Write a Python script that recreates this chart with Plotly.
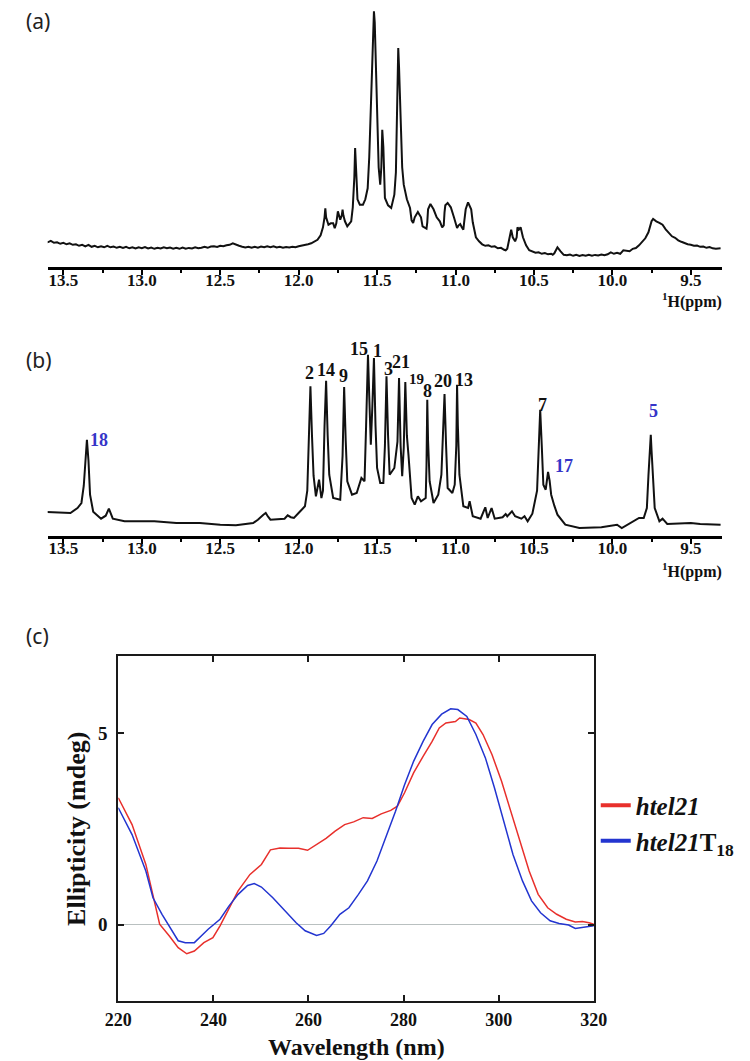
import plotly.graph_objects as go

W, H = 750, 1061

# ---------------- Panel (a): 1H NMR spectrum (intensity in arbitrary units) ----------------
a_ppm = [13.62, 13.60, 13.58, 13.56, 13.54, 13.52, 13.50, 13.48, 13.46, 13.44, 13.42, 13.40, 13.38, 13.36,
         13.34, 13.32, 13.30, 13.28, 13.26, 13.24, 13.22, 13.20, 13.18, 13.16, 13.14, 13.12, 13.10, 13.08,
         13.06, 13.04, 13.02, 13.00, 12.98, 12.96, 12.94, 12.92, 12.90, 12.88, 12.86, 12.84, 12.82, 12.80,
         12.78, 12.76, 12.74, 12.72, 12.70, 12.68, 12.66, 12.64, 12.62, 12.60, 12.58, 12.56, 12.54, 12.52,
         12.50, 12.48, 12.46, 12.44, 12.42, 12.40, 12.38, 12.36, 12.34, 12.32, 12.30, 12.28, 12.26, 12.24,
         12.22, 12.20, 12.18, 12.16, 12.14, 12.12, 12.10, 12.08, 12.06, 12.04, 12.02, 12.00, 11.98, 11.96,
         11.94, 11.92, 11.90, 11.88, 11.86, 11.845, 11.835, 11.83, 11.825, 11.815, 11.81, 11.795, 11.78,
         11.77, 11.76, 11.75, 11.74, 11.735, 11.725, 11.72, 11.715, 11.705, 11.69, 11.665, 11.655, 11.645,
         11.64, 11.635, 11.625, 11.61, 11.59, 11.575, 11.56, 11.55, 11.54, 11.53, 11.525, 11.52, 11.515,
         11.51, 11.505, 11.495, 11.49, 11.48, 11.473, 11.467, 11.46, 11.45, 11.43, 11.41, 11.40, 11.39,
         11.38, 11.375, 11.37, 11.365, 11.36, 11.35, 11.34, 11.33, 11.31, 11.29, 11.28, 11.27, 11.26,
         11.24, 11.22, 11.21, 11.195, 11.185, 11.18, 11.175, 11.16, 11.14, 11.12, 11.10, 11.085, 11.075,
         11.07, 11.065, 11.05, 11.03, 11.01, 11.00, 10.99, 10.98, 10.97, 10.96, 10.95, 10.945, 10.935,
         10.92, 10.90, 10.89, 10.87, 10.85, 10.83, 10.81, 10.79, 10.77, 10.75, 10.73, 10.71, 10.69, 10.68,
         10.67, 10.665, 10.655, 10.645, 10.635, 10.62, 10.61, 10.605, 10.595, 10.585, 10.57, 10.55, 10.53,
         10.51, 10.49, 10.47, 10.45, 10.43, 10.41, 10.39, 10.38, 10.37, 10.36, 10.35, 10.33, 10.31, 10.29,
         10.27, 10.25, 10.23, 10.21, 10.19, 10.17, 10.15, 10.13, 10.11, 10.09, 10.07, 10.05, 10.03, 10.01,
         9.99, 9.97, 9.95, 9.93, 9.91, 9.89, 9.87, 9.85, 9.83, 9.81, 9.79, 9.77, 9.76, 9.75, 9.74, 9.73,
         9.72, 9.70, 9.68, 9.66, 9.64, 9.62, 9.60, 9.58, 9.56, 9.54, 9.52, 9.50, 9.48, 9.46, 9.44, 9.42,
         9.40, 9.38, 9.36, 9.34, 9.31]
a_int = [26, 25, 26.5, 24.5, 25, 23.5, 24.5, 23, 24, 22.5, 23, 21.5, 22.5, 21, 22.5, 20.5, 21.5, 20, 21,
         20, 21.5, 20, 20.8, 19.5, 20.5, 19.3, 20.5, 19, 20, 18.8, 20, 19.2, 20.2, 18.8, 19.8, 18.5, 19.6,
         18.8, 20, 19, 19.8, 18.7, 19.5, 18.5, 19.8, 18.6, 19.4, 18.8, 20, 19, 19.6, 20.5, 19.5, 20.8, 21,
         20.3, 21.5, 21, 22, 22.5, 24, 22.5, 21.5, 20.5, 19.8, 20.6, 19.5, 20.5, 19.7, 20.8, 20, 21, 20.2,
         21, 19.8, 20.5, 19.5, 20.2, 19.8, 20.5, 20, 21, 21.5, 22, 23, 24, 25.5, 27.5, 32, 40, 50, 59, 50,
         43, 42.6, 44, 44, 39, 44, 56, 50, 47.6, 52, 57.6, 52, 46, 41, 46, 60, 90, 119.3, 95, 68, 62.6,
         62.6, 68, 79, 110, 159, 215, 245, 256, 245, 215, 192.6, 150, 100, 82.6, 100, 137.6, 120, 69.3,
         62, 59.3, 65, 72.6, 95, 150, 200, 219.3, 200, 140, 100, 82.6, 68, 59.3, 47, 44.3, 50, 55.3, 50,
         41, 40, 38.6, 45, 58, 63.3, 58, 50, 46, 40, 42, 55, 62, 64.3, 60, 50, 44, 39.3, 42, 43.3, 40, 37.6,
         45, 58, 65, 58, 45, 30, 26, 23, 21.5, 22, 20.5, 21, 19, 19.5, 17.5, 17, 18.5, 22, 28, 37.6, 30, 26,
         30, 40, 38, 40, 30, 22, 17, 15.5, 14.5, 15, 13.5, 14.3, 13, 13.6, 12.6, 14, 17, 20, 16, 12.5, 12,
         12.8, 11.5, 12.4, 11.3, 12.3, 11.5, 12.5, 11.6, 12.4, 11.8, 12.8, 12, 13, 15, 13.5, 14.5, 13.5,
         17, 16.5, 16, 18.5, 19.3, 22, 25, 29, 35, 41, 46, 48.3, 47, 46, 44.5, 42.6, 38, 34, 31, 29.5, 27,
         25.5, 24, 23, 22.6, 21.5, 21.8, 20.5, 20.8, 19.5, 20.3, 19, 18.6, 19, 17.5, 17]

# ---------------- Panel (b): 1H NMR spectrum ----------------
b_ppm = [13.61, 13.49, 13.455, 13.41, 13.385, 13.37, 13.36, 13.35, 13.34, 13.33, 13.31, 13.26, 13.23,
         13.21, 13.185, 13.11, 13.0, 12.92, 12.78, 12.63, 12.50, 12.40, 12.29, 12.26, 12.225, 12.21, 12.195,
         12.18, 12.09, 12.07, 12.05, 12.03, 11.99, 11.96, 11.945, 11.935, 11.925, 11.915, 11.905, 11.89,
         11.87, 11.855, 11.845, 11.835, 11.825, 11.815, 11.805, 11.78, 11.735, 11.72, 11.71, 11.70, 11.69,
         11.66, 11.63, 11.60, 11.58, 11.57, 11.558, 11.55, 11.54, 11.53, 11.52, 11.51, 11.50, 11.48, 11.46,
         11.45, 11.44, 11.43, 11.42, 11.39, 11.37, 11.36, 11.35, 11.34, 11.33, 11.32, 11.31, 11.30, 11.28,
         11.26, 11.24, 11.22, 11.19, 11.185, 11.18, 11.175, 11.165, 11.14, 11.11, 11.09, 11.08, 11.07,
         11.06, 11.05, 11.02, 11.005, 10.995, 10.99, 10.985, 10.975, 10.95, 10.92, 10.91, 10.89, 10.84,
         10.81, 10.795, 10.77, 10.75, 10.70, 10.68, 10.67, 10.64, 10.62, 10.58, 10.56, 10.54, 10.51, 10.48,
         10.47, 10.46, 10.45, 10.44, 10.425, 10.415, 10.41, 10.40, 10.39, 10.37, 10.35, 10.30, 10.21, 10.07,
         9.97, 9.94, 9.87, 9.83, 9.80, 9.78, 9.77, 9.76, 9.755, 9.75, 9.74, 9.73, 9.70, 9.68, 9.65, 9.50,
         9.44, 9.31]
b_int = [23.7, 22.7, 22.7, 27.7, 32.7, 50, 80, 96, 75, 41, 24, 17, 20, 27, 17, 14.4, 14.4, 14.4, 12.7,
         12.7, 11, 10.4, 12.7, 16, 21, 22.7, 19, 16, 17, 20.4, 18.5, 17.7, 24.4, 29.4, 45, 95, 149.4, 100,
         60, 39.4, 56, 37.7, 45, 110, 155, 100, 61, 37.7, 36, 80, 148.7, 95, 54.4, 41, 42.7, 57.7, 54.4, 110,
         181, 140, 91, 130, 177.7, 110, 67.7, 52.7, 52.7, 90, 159.4, 100, 61, 67.7, 94, 157.7, 90, 59.4, 87.7,
         153.7, 100, 81, 37.7, 31, 39.4, 34.4, 37.7, 70, 136, 95, 54.4, 32.7, 41, 61, 100, 141.7, 90, 47.7,
         42.7, 51, 90, 151, 110, 61, 29.4, 27.7, 34.4, 19.4, 17, 28.4, 17.7, 27.7, 17, 18.4, 21.7, 19.4, 24.4,
         19.4, 17, 19.4, 14.4, 22, 45, 80, 126, 90, 51, 46, 55, 63.7, 55, 41, 30, 21, 11, 7.7, 8.4, 11, 7.7,
         14.4, 17.7, 17.7, 27.7, 60, 90, 101, 85, 50, 27.7, 14.4, 17, 11.7, 12.7, 11.7, 11]

b_labels = ["18", "2", "14", "9", "15", "1", "3", "21", "19", "8", "20", "13", "7", "17", "5"]
b_label_ppm = [13.27, 11.934, 11.826, 11.715, 11.615, 11.50, 11.43, 11.345, 11.25, 11.18, 11.08,
               10.943, 10.448, 10.31, 9.74]
b_label_int = [96, 162.7, 166, 160, 187, 185, 167, 173.4, 157, 144.4, 154.4, 156, 131, 69.4, 124.4]
b_label_blue = ["18", "17", "5"]

ppm_ticks = [13.5, 13.0, 12.5, 12.0, 11.5, 11.0, 10.5, 10.0, 9.5]

# ---------------- Panel (c): CD spectra ----------------
wl_red = [220, 222.9, 225.8, 227.3, 228.7, 230.7, 232.6, 234.4, 236.0, 238.0, 239.9, 241.4, 243.3, 245.2,
          247.7, 250.1, 252.0, 254.0, 255.9, 257.9, 259.8, 261.7, 263.7, 265.6, 267.6, 269.5, 271.5, 273.4,
          275.3, 277.3, 278.7, 280.2, 282.1, 284.1, 286.0, 287.5, 288.9, 290.9, 291.8, 293.8, 295.2, 296.7,
          298.6, 300.6, 302.5, 304.5, 306.4, 308.3, 310.3, 312.2, 314.2, 316.1, 317.6, 319.0, 320]
cd_red = [3.31, 2.61, 1.57, 0.79, 0.01, -0.29, -0.6, -0.76, -0.69, -0.47, -0.34, -0.03, 0.44, 0.88, 1.31,
          1.57, 1.95, 2.0, 1.99, 1.99, 1.94, 2.09, 2.25, 2.44, 2.61, 2.68, 2.79, 2.77, 2.89, 2.98, 3.09, 3.44,
          3.96, 4.39, 4.78, 5.13, 5.26, 5.30, 5.39, 5.35, 5.26, 4.96, 4.43, 3.74, 2.96, 2.18, 1.40, 0.79, 0.44,
          0.27, 0.14, 0.07, 0.08, 0.05, 0.01]

wl_blue = [220, 222.9, 225.8, 227.3, 229.2, 230.7, 232.6, 234.1, 236.0, 237.5, 238.9, 241.4, 243.3, 245.2,
           247.2, 248.6, 250.1, 252.5, 255.0, 257.4, 259.3, 261.7, 263.2, 264.7, 266.6, 268.5, 270.5, 272.4,
           274.4, 276.3, 278.3, 280.2, 282.1, 284.1, 286.0, 288.0, 289.9, 291.4, 293.3, 295.2, 297.2, 299.1,
           301.1, 303.0, 305.0, 306.9, 308.8, 310.8, 312.7, 314.7, 316.1, 318.1, 320]
cd_blue = [3.05, 2.35, 1.40, 0.70, 0.27, -0.03, -0.42, -0.47, -0.47, -0.29, -0.12, 0.14, 0.49, 0.79, 1.02,
           1.07, 0.98, 0.70, 0.36, 0.05, -0.16, -0.28, -0.23, -0.03, 0.27, 0.44, 0.79, 1.14, 1.66, 2.27, 2.96,
           3.65, 4.26, 4.78, 5.22, 5.49, 5.63, 5.61, 5.43, 4.96, 4.35, 3.57, 2.70, 1.83, 1.14, 0.62, 0.31, 0.10,
           0.03, -0.01, -0.10, -0.06, -0.03]

c_xticks = [220, 240, 260, 280, 300, 320]
c_yticks = [0, 5]
series_names = ["<i>htel21</i>", "<i>htel21</i>T<sub>18</sub>"]
RED, BLUE = "#e8302c", "#2335d0"

SERIF = "Liberation Serif"
SANS = "Noto Sans"


def py(px):
    return 1 - px / H


fig = go.Figure()
fig.add_trace(go.Scatter(x=a_ppm, y=a_int, mode="lines", line=dict(color="#111", width=2),
                         xaxis="x", yaxis="y", showlegend=False, hoverinfo="skip"))
fig.add_trace(go.Scatter(x=b_ppm, y=b_int, mode="lines", line=dict(color="#111", width=2),
                         xaxis="x2", yaxis="y2", showlegend=False, hoverinfo="skip"))
fig.add_trace(go.Scatter(x=wl_red, y=cd_red, mode="lines", line=dict(color=RED, width=1.5),
                         xaxis="x3", yaxis="y3", showlegend=False))
fig.add_trace(go.Scatter(x=wl_blue, y=cd_blue, mode="lines", line=dict(color=BLUE, width=1.5),
                         xaxis="x3", yaxis="y3", showlegend=False))
# legend entries (thicker line samples)
for nm, col in zip(series_names, [RED, BLUE]):
    fig.add_trace(go.Scatter(x=[None], y=[None], mode="lines", line=dict(color=col, width=4),
                             name=nm, xaxis="x3", yaxis="y3", showlegend=True))

nmr_xaxis = dict(range=[13.6, 9.3], showline=True, linewidth=3, linecolor="#000",
                 ticks="outside", ticklen=5, tickwidth=2, tickcolor="#000",
                 tickvals=ppm_ticks, ticktext=[f"{v:.1f}" for v in ppm_ticks],
                 tickfont=dict(family=SERIF, size=17, color="#111", weight="bold"),
                 ticklabelstandoff=-10,
                 minor=dict(dtick=0.25, tick0=0, ticks="outside", ticklen=3, tickwidth=2, tickcolor="#000"),
                 showgrid=False, zeroline=False, fixedrange=True)

fig.update_layout(
    width=W, height=H, margin=dict(l=0, r=0, t=0, b=0),
    paper_bgcolor="white", plot_bgcolor="white",
    xaxis=dict(domain=[26.7 / W, 727.3 / W], anchor="y", **nmr_xaxis),
    yaxis=dict(domain=[py(259.3), 1.0], range=[0, 259.3], visible=False, anchor="x"),
    xaxis2=dict(domain=[26.7 / W, 727.3 / W], anchor="y2", **nmr_xaxis),
    yaxis2=dict(domain=[py(527.7), py(300)], range=[0, 227.7], visible=False, anchor="x2"),
    xaxis3=dict(domain=[100 / W, 594 / W], anchor="y3", range=[220, 320],
                showline=True, linewidth=2, linecolor="#1a1a1a", mirror="ticks",
                ticks="inside", ticklen=6, tickwidth=2, tickcolor="#1a1a1a",
                tickvals=c_xticks, ticklabelstandoff=1,
                tickfont=dict(family=SERIF, size=18, color="#111", weight="bold"),
                showgrid=False, zeroline=False),
    yaxis3=dict(domain=[py(993.3), py(648.3)], anchor="x3", range=[-2, 7],
                showline=True, linewidth=2, linecolor="#1a1a1a", mirror="ticks",
                ticks="inside", ticklen=6, tickwidth=2, tickcolor="#1a1a1a",
                tickvals=c_yticks, ticklabelstandoff=5,
                tickfont=dict(family=SERIF, size=19, color="#111", weight="bold"),
                showgrid=False, zeroline=True, zerolinecolor="#b9c0c0", zerolinewidth=1.2),
    legend=dict(x=596 / W, y=py(815), xanchor="left", yanchor="middle",
                font=dict(family=SERIF, size=25, color="#111", weight="bold"),
                bgcolor="rgba(0,0,0,0)", itemwidth=30, tracegroupgap=0),
    showlegend=True,
)

ann = []
for lab, (x, y) in zip(["(a)", "(b)", "(c)"], [(2, 13), (2, 352), (2, 627.5)]):
    ann.append(dict(text=lab, x=x / W, y=py(y), xref="paper", yref="paper", xanchor="left",
                    yanchor="middle", showarrow=False, font=dict(family=SANS, size=21, color="#222")))
for yy in [293, 562]:
    ann.append(dict(text="<sup>1</sup>H(ppm)", x=729 / W, y=py(yy), xref="paper", yref="paper",
                    xanchor="right", yanchor="middle", showarrow=False,
                    font=dict(family=SERIF, size=16, color="#111", weight="bold")))
for lab, x, y in zip(b_labels, b_label_ppm, b_label_int):
    ann.append(dict(text=lab, x=x, y=y, xref="x2", yref="y2", showarrow=False,
                    xanchor="center", yanchor="middle",
                    font=dict(family=SERIF, size=15 if lab == "19" else 18,
                              color="#3535c8" if lab in b_label_blue else "#111", weight="bold")))
ann.append(dict(text="Wavelength (nm)", x=347 / W, y=py(1039), xref="paper", yref="paper",
                showarrow=False, xanchor="center", yanchor="middle",
                font=dict(family=SERIF, size=24, color="#111", weight="bold")))
ann.append(dict(text="Ellipticity (mdeg)", x=56 / W, y=py(821), xref="paper", yref="paper",
                showarrow=False, xanchor="center", yanchor="middle", textangle=-90,
                font=dict(family=SERIF, size=26, color="#111", weight="bold")))
fig.update_layout(annotations=ann)

fig.write_html("out.html")
